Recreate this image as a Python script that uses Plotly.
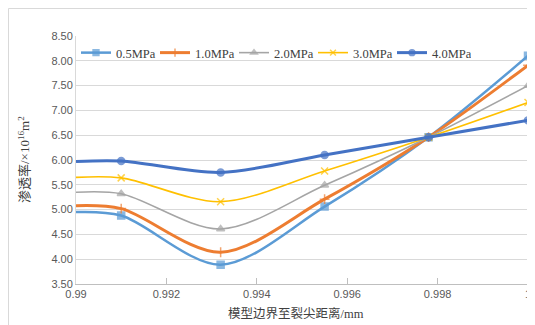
import plotly.graph_objects as go

x_vals = [0.99, 0.991, 0.9932, 0.9955, 0.9978, 1.0]
series_names = ["0.5MPa", "1.0MPa", "2.0MPa", "3.0MPa", "4.0MPa"]
p05 = [4.95, 4.88, 3.89, 5.06, 6.46, 8.10]
p10 = [5.08, 5.02, 4.14, 5.21, 6.46, 7.91]
p20 = [5.35, 5.32, 4.61, 5.49, 6.46, 7.50]
p30 = [5.65, 5.64, 5.16, 5.78, 6.46, 7.16]
p40 = [5.97, 5.98, 5.75, 6.10, 6.46, 6.80]
x_tickvals = [0.99, 0.992, 0.994, 0.996, 0.998, 1.0]
x_ticktext = ["0.99", "0.992", "0.994", "0.996", "0.998", "1"]
y_tickvals = [3.5, 4.0, 4.5, 5.0, 5.5, 6.0, 6.5, 7.0, 7.5, 8.0, 8.5]
y_ticktext = ["3.50", "4.00", "4.50", "5.00", "5.50", "6.00", "6.50", "7.00", "7.50", "8.00", "8.50"]
x_title = "模型边界至裂尖距离/mm"
y_title = "渗透率/×10<sup>16</sup>m<sup>2</sup>"

styles = [
    dict(color="#5B9BD5", width=2.5, symbol="square", size=7),
    dict(color="#ED7D31", width=3, symbol="cross-thin", size=7),
    dict(color="#A5A5A5", width=1.6, symbol="triangle-up", size=7),
    dict(color="#FFC000", width=1.6, symbol="x-thin", size=7),
    dict(color="#4472C4", width=3, symbol="circle", size=7),
]

fig = go.Figure()
for name, vals, st in zip(series_names, [p05, p10, p20, p30, p40], styles):
    sizes = [0] + [st["size"]] * (len(x_vals) - 1)
    fig.add_trace(go.Scatter(
        x=x_vals, y=vals, name=name, mode="lines+markers",
        line=dict(color=st["color"], width=st["width"], shape="spline", smoothing=0.9),
        marker=dict(symbol=st["symbol"], size=sizes, color=st["color"],
                    line=dict(color=st["color"], width=1.5)),
        cliponaxis=False,
    ))

# page has an 8px body margin, so the figure is laid out 8px smaller / shifted
OFF = 8
W, H = 535 - OFF, 325 - OFF
L, T = 76 - OFF, 36 - OFF
R = W - (528 - OFF)
B = H - (284 - OFF)
pw = W - L - R
ph = H - T - B


def px(xp):
    return (xp - OFF - L) / pw


def py(yp):
    return 1 - (yp - OFF - T) / ph


fig.update_layout(
    width=W, height=H,
    margin=dict(l=L, r=R, t=T, b=B, autoexpand=False),
    paper_bgcolor="white", plot_bgcolor="white",
    showlegend=True,
    legend=dict(orientation="h", x=0.0, y=py(38), xanchor="left", yanchor="top",
                font=dict(family="Liberation Serif", size=12.5, color="#404040"),
                bgcolor="rgba(0,0,0,0)", itemwidth=30, tracegroupgap=0,
                entrywidth=34, entrywidthmode="pixels",
                traceorder="normal"),
    xaxis=dict(range=[0.99, 1.0], tickvals=x_tickvals, ticktext=x_ticktext,
               automargin=False,
               showgrid=False, zeroline=False, showline=True, linecolor="#BFBFBF",
               linewidth=1, ticks="inside", ticklen=6, tickcolor="#BFBFBF",
               tickfont=dict(family="Liberation Sans", size=11, color="#595959")),
    yaxis=dict(range=[3.5, 8.5], tickvals=y_tickvals, ticktext=y_ticktext,
               automargin=False,
               showgrid=True, gridcolor="#D9D9D9", gridwidth=1, zeroline=False,
               showline=True, linecolor="#D9D9D9", ticks="",
               tickfont=dict(family="Liberation Sans", size=11, color="#595959")),
    annotations=[
        dict(text=x_title, xref="paper", yref="paper",
             x=px(296), y=py(313), xanchor="center", yanchor="middle",
             showarrow=False,
             font=dict(family="Liberation Serif, Noto Sans CJK SC", size=12.5, color="#404040")),
        dict(text=y_title, xref="paper", yref="paper", textangle=-90,
             x=px(24), y=py(160), xanchor="center", yanchor="middle",
             showarrow=False,
             font=dict(family="Liberation Serif, Noto Sans CJK SC", size=13, color="#404040")),
    ],
    shapes=[dict(type="rect", xref="paper", yref="paper",
                 x0=px(8.5), x1=px(560),
                 y0=py(360), y1=py(8.5),
                 line=dict(color="#D9D9D9", width=1), layer="below")],
)

fig.write_html("out.html")
